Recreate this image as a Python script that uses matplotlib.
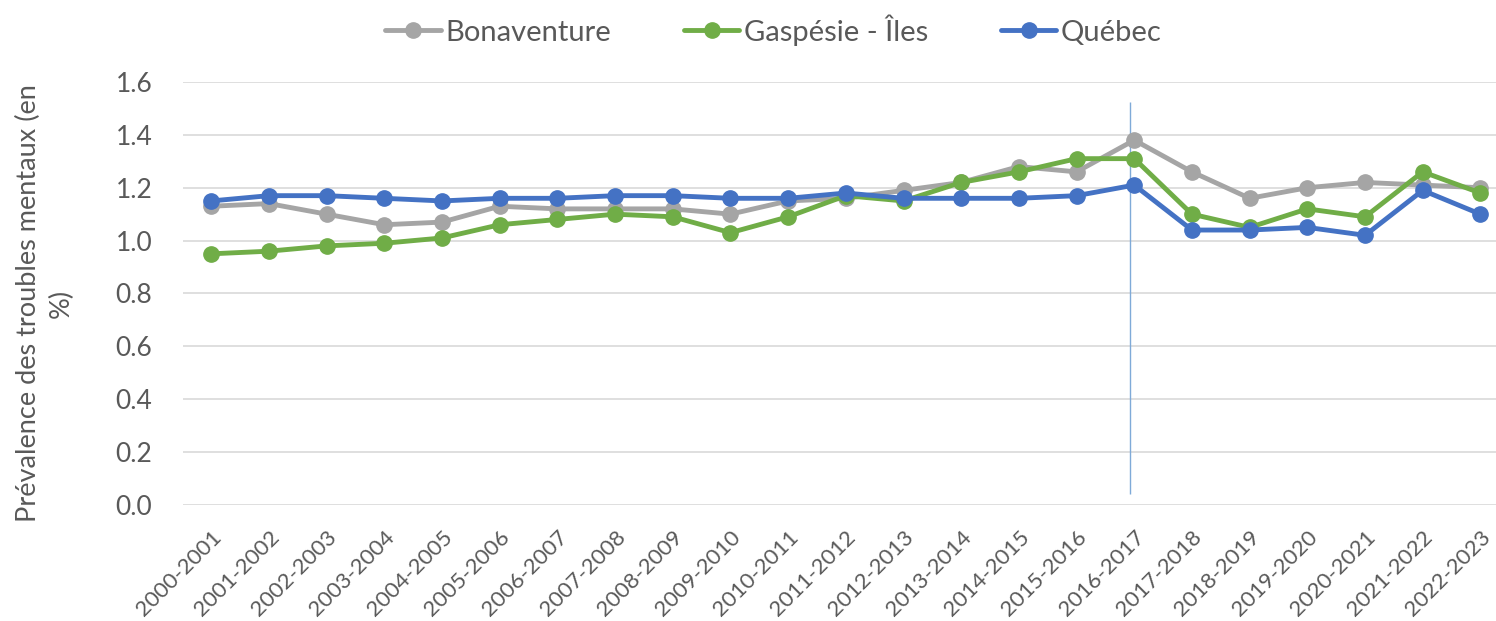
import matplotlib
matplotlib.use("Agg")
import matplotlib.pyplot as plt

periods = ["2000-2001", "2001-2002", "2002-2003", "2003-2004", "2004-2005", "2005-2006",
           "2006-2007", "2007-2008", "2008-2009", "2009-2010", "2010-2011", "2011-2012",
           "2012-2013", "2013-2014", "2014-2015", "2015-2016", "2016-2017", "2017-2018",
           "2018-2019", "2019-2020", "2020-2021", "2021-2022", "2022-2023"]

bonaventure = [1.13, 1.14, 1.10, 1.06, 1.07, 1.13, 1.12, 1.12, 1.12, 1.10, 1.15, 1.16,
               1.19, 1.22, 1.28, 1.26, 1.38, 1.26, 1.16, 1.20, 1.22, 1.21, 1.20]
gaspesie = [0.95, 0.96, 0.98, 0.99, 1.01, 1.06, 1.08, 1.10, 1.09, 1.03, 1.09, 1.17,
            1.15, 1.22, 1.26, 1.31, 1.31, 1.10, 1.05, 1.12, 1.09, 1.26, 1.18]
quebec = [1.15, 1.17, 1.17, 1.16, 1.15, 1.16, 1.16, 1.17, 1.17, 1.16, 1.16, 1.18,
          1.16, 1.16, 1.16, 1.17, 1.21, 1.04, 1.04, 1.05, 1.02, 1.19, 1.10]

series_names = ["Bonaventure", "Gaspésie - Îles", "Québec"]
colors = ["#A5A5A5", "#70AD47", "#4472C4"]

plt.rcParams['font.family'] = ['Lato', 'DejaVu Sans']
text_color = "#595959"

fig = plt.figure(figsize=(14.96, 6.21), dpi=100)
ax = fig.add_axes([0.1223, 0.1868, 0.8777, 0.6812])

x = list(range(len(periods)))
for vals, name, c in zip([bonaventure, gaspesie, quebec], series_names, colors):
    ax.plot(x, vals, color=c, lw=3.5, marker='o', markersize=11, label=name,
            solid_capstyle='round', solid_joinstyle='round')

ax.vlines(15.93, 0.04, 1.525, color="#7FAAD8", lw=1.0, zorder=1)

ax.set_ylim(0, 1.6)
ax.set_xlim(-0.49, 22.27)
yt = [0.0, 0.2, 0.4, 0.6, 0.8, 1.0, 1.2, 1.4, 1.6]
ax.set_yticks(yt)
ax.set_yticklabels([f"{v:.1f}" for v in yt], fontsize=19, color=text_color)
ax.set_xticks(x)
ax.set_xticklabels(periods, rotation=45, ha='right', rotation_mode='anchor',
                   fontsize=16, color=text_color)
ax.tick_params(axis='both', length=0)
ax.tick_params(axis='y', pad=22)
ax.tick_params(axis='x', pad=16)
ax.grid(axis='y', color="#D9D9D9", lw=1.2)
ax.set_axisbelow(True)
for s in ax.spines.values():
    s.set_visible(False)

fig.text(0.030, 0.512, "Prévalence des troubles mentaux (en\n%)", rotation=90,
         ha='center', va='center', fontsize=19.5, color=text_color, linespacing=1.35)

leg = fig.legend(loc='center', bbox_to_anchor=(0.517, 0.952), ncol=3, frameon=False,
                 fontsize=21, handlelength=1.9, columnspacing=2.5, handletextpad=0.15)
for t in leg.get_texts():
    t.set_color(text_color)

fig.savefig("out.png", dpi=100)
